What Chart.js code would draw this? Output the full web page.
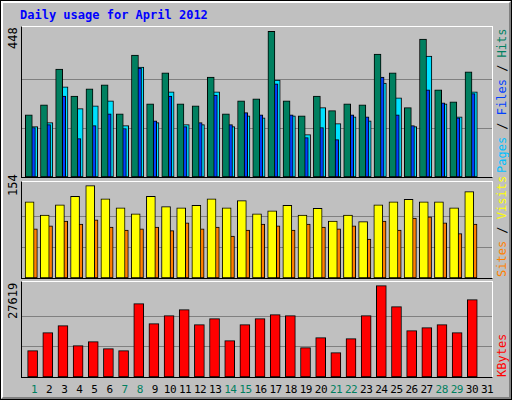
<!DOCTYPE html>
<html>
<head>
<meta charset="utf-8">
<script src="https://cdn.jsdelivr.net/npm/chart.js@4/dist/chart.umd.min.js"></script>
<style>
  body { margin: 0; background: #fff; }
  #frame { position: absolute; left: 0; top: 0; width: 510px; height: 398px; background: #c0c0c0;
           border: 1px solid #000; font-family: "DejaVu Sans Mono", monospace; font-size: 12px; }
  #frame:after { content: ""; position: absolute; left: 0; top: 0; right: 0; bottom: 0;
           border: 2px solid; border-color: #fff #808080 #808080 #fff; pointer-events: none; }
  .panel { position: absolute; left: 20px; width: 470px; border: 1px solid;
           border-color: #fff #fff #000 #000; }
  .panel canvas { display: block; }
  .rot { position: absolute; transform-origin: 0 0; transform: rotate(-90deg); white-space: nowrap; }
  .day { position: absolute; top: 382px; width: 20px; text-align: center; font-size: 11px; letter-spacing: -0.5px; }
</style>
</head>
<body>
<div id="frame">
  <div style="position:absolute;left:19px;top:7px;color:#0000ff;font-weight:bold;">Daily usage for April 2012</div>

  <div class="panel" style="top:25px;height:150px"><canvas id="c1" width="470" height="150"></canvas></div>
  <div class="panel" style="top:180px;height:96px"><canvas id="c2" width="470" height="96"></canvas></div>
  <div class="panel" style="top:280px;height:95px"><canvas id="c3" width="470" height="95"></canvas></div>

  <div class="rot" style="left:5px;top:48px">448</div>
  <div class="rot" style="left:5px;top:195px">154</div>
  <div class="rot" style="left:5px;top:318px">27619</div>

  <div class="rot" style="left:494px;top:172px"><span style="color:#00c0ff">Pages</span> / <span style="color:#0040ff">Files</span> / <span style="color:#008060">Hits</span></div>
  <div class="rot" style="left:494px;top:276px"><span style="color:#ff8000">Sites</span> / <span style="color:#ffff00">Visits</span></div>
  <div class="rot" style="left:494px;top:376px"><span style="color:#ff0000">KBytes</span></div>

  <div id="days"></div>
</div>

<script>
const days = Array.from({ length: 31 }, (_, i) => i + 1);
const weekend = [1, 7, 8, 14, 15, 21, 22, 28, 29];

const hits = [191, 222, 332, 249, 271, 283, 194, 375, 225, 320, 225, 219, 307, 194, 234,
              240, 448, 234, 188, 249, 204, 225, 222, 378, 320, 213, 424, 268, 231, 323];
const files = [152, 161, 249, 118, 158, 194, 149, 335, 173, 249, 155, 167, 252, 161, 198,
               191, 286, 191, 121, 152, 115, 191, 185, 307, 191, 158, 268, 228, 182, 256];
const pages = [155, 167, 277, 210, 219, 234, 158, 338, 167, 262, 161, 161, 262, 155, 188,
               182, 298, 188, 130, 213, 164, 185, 173, 289, 243, 155, 372, 225, 185, 262];
const visits = [127, 105, 122, 136, 154, 132, 117, 107, 136, 119, 117, 121, 132, 117, 129,
                107, 112, 121, 105, 116, 95, 105, 94, 122, 127, 131, 127, 127, 117, 144];
const sites = [82, 87, 95, 90, 97, 85, 80, 82, 85, 79, 92, 82, 85, 70, 80,
               90, 87, 80, 90, 85, 82, 87, 65, 95, 80, 100, 102, 92, 74, 90];
const kbytes = [7963, 13406, 15523, 9475, 10684, 8568, 7963, 22176, 16128, 18547, 20362, 15826, 17640, 10987, 15826,
                17640, 18850, 18547, 8870, 11894, 7358, 11592, 18547, 27619, 21269, 14011, 14918, 15826, 13406, 23386];

// a series as points on the linear day axis, shifted a bit to overlap like webalizer
const pts = (vals, shift) => vals.map((v, i) => ({ x: days[i] + shift, y: v }));

const ds = (label, vals, shift, color, width) => ({
  label, data: pts(vals, shift), backgroundColor: color, grouped: false,
  borderColor: '#000', borderWidth: 1, barThickness: width, borderSkipped: false
});

function makeChart(id, datasets, maxY, top) {
  new Chart(document.getElementById(id), {
    type: 'bar',
    data: { datasets },
    options: {
      responsive: false,
      animation: false,
      layout: { padding: 0 },
      plugins: { legend: { display: false }, tooltip: { enabled: false } },
      scales: {
        x: { type: 'linear', min: 0.5, max: 31.5, display: false, offset: false },
        y: {
          min: 0, max: maxY,
          afterBuildTicks: (axis) => { axis.ticks = [{ value: top / 3 }, { value: top * 2 / 3 }]; },
          ticks: { display: false },
          grid: { color: '#808080', drawTicks: false },
          border: { display: false }
        }
      }
    }
  });
}

makeChart('c1', [
  ds('Hits', hits, -0.05, '#008060', 7),
  ds('Files', files, 0.12, '#0040ff', 8),
  ds('Pages', pages, 0.27, '#00e0ff', 8)
], 461, 448);

makeChart('c2', [
  ds('Visits', visits, 0.0, '#ffff00', 9),
  ds('Sites', sites, 0.25, '#ff8000', 8)
], 160, 154);

makeChart('c3', [
  ds('KBytes', kbytes, 0.2, '#ff0000', 10)
], 28728, 27619);

const dayBox = document.getElementById('days');
days.forEach((d) => {
  const el = document.createElement('div');
  el.className = 'day';
  el.textContent = d;
  el.style.left = (23 + 15.1 * (d - 1)) + 'px';
  el.style.color = weekend.includes(d) ? '#008060' : '#000';
  dayBox.appendChild(el);
});
</script>
</body>
</html>
